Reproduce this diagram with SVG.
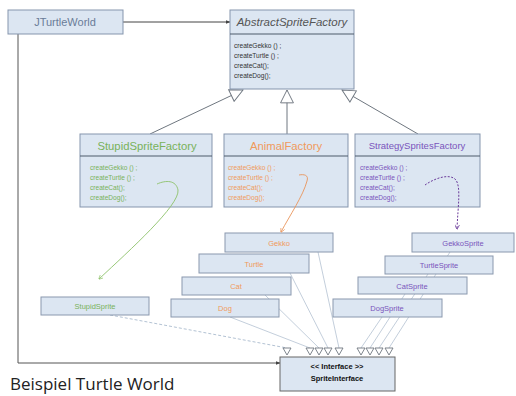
<svg xmlns="http://www.w3.org/2000/svg" width="516" height="396" viewBox="0 0 516 396">
  <defs>
    <style>
      .box { fill: #dce6f2; stroke: #8595ad; stroke-width: 1; }
      .sbox { fill: #dce6f2; stroke: #8a98ae; stroke-width: 1; }
      .div { stroke: #4d5a6b; stroke-width: 1.2; }
      .t { font-family: "Liberation Sans", Arial, sans-serif; }
      .m { font-family: "Liberation Sans", Arial, sans-serif; font-size: 6.6px; }
      .gen { fill: none; stroke: #6f7780; stroke-width: 1; }
      .tri { fill: #ffffff; stroke: #6f7780; stroke-width: 0.9; }
      .real { fill: none; stroke: #b4c2d2; stroke-width: 0.8; }
      .green { fill: #79b25a; }
      .orange { fill: #f09a5c; }
      .purple { fill: #7a54bc; }
    </style>
    <marker id="arrowDark" viewBox="0 0 10 10" refX="9" refY="5" markerWidth="5" markerHeight="5" orient="auto">
      <path d="M0,1 L10,5 L0,9 z" fill="#444"/>
    </marker>
    <marker id="arrowGreen" viewBox="0 0 10 10" refX="9" refY="5" markerWidth="5" markerHeight="5" orient="auto">
      <path d="M0,0 L10,5 L0,10" fill="none" stroke="#8dc26a" stroke-width="1.5"/>
    </marker>
    <marker id="arrowOrange" viewBox="0 0 10 10" refX="9" refY="5" markerWidth="5" markerHeight="5" orient="auto">
      <path d="M0,0 L10,5 L0,10" fill="none" stroke="#e9945a" stroke-width="1.5"/>
    </marker>
    <marker id="arrowPurple" viewBox="0 0 10 10" refX="9" refY="5" markerWidth="5" markerHeight="5" orient="auto">
      <path d="M0,0 L10,5 L0,10" fill="none" stroke="#6a3a9a" stroke-width="1.5"/>
    </marker>
    <marker id="genHead" viewBox="0 0 14 14" refX="13" refY="7" markerWidth="15" markerHeight="15" markerUnits="userSpaceOnUse" orient="auto">
      <path d="M1,1 L13,7 L1,13 z" fill="#ffffff" stroke="#6f7780" stroke-width="0.9"/>
    </marker>
  </defs>

  <rect width="516" height="396" fill="#ffffff"/>

  <!-- connectors (drawn beneath the classes) -->
  <g id="connectors">
    <!-- association JTurtleWorld -> AbstractSpriteFactory -->
    <line x1="123" y1="22" x2="230" y2="22" stroke="#444" stroke-width="1" marker-end="url(#arrowDark)"/>
    <!-- association JTurtleWorld -> SpriteInterface -->
    <polyline points="18,34 18,363 280,363" fill="none" stroke="#555" stroke-width="1" marker-end="url(#arrowDark)"/>

    <!-- generalisations to AbstractSpriteFactory -->
    <line class="gen" x1="150" y1="134" x2="243" y2="90" marker-end="url(#genHead)"/>
    <line class="gen" x1="287" y1="134" x2="287" y2="90" marker-end="url(#genHead)"/>
    <line class="gen" x1="418" y1="134" x2="342" y2="90" marker-end="url(#genHead)"/>

    <!-- realisations of SpriteInterface -->
    <line x1="110" y1="315" x2="287" y2="348" fill="none" stroke="#9fb3c8" stroke-width="0.8" stroke-dasharray="3,2"/>
    <line class="real" x1="230" y1="317" x2="310" y2="348"/>
    <line class="real" x1="265" y1="295" x2="319" y2="348"/>
    <line class="real" x1="290" y1="273" x2="328" y2="348"/>
    <line class="real" x1="318" y1="252" x2="339" y2="348"/>
    <line class="real" x1="382" y1="317" x2="361" y2="348"/>
    <line class="real" x1="405" y1="294" x2="370" y2="348"/>
    <line class="real" x1="428" y1="274" x2="379" y2="348"/>
    <line class="real" x1="450" y1="252" x2="389" y2="348"/>
    <g>
      <path class="tri" d="M283,348 L291,348 L287,355 z"/>
      <path class="tri" d="M306,348 L314,348 L310,355 z"/>
      <path class="tri" d="M315,348 L323,348 L319,355 z"/>
      <path class="tri" d="M324,348 L332,348 L328,355 z"/>
      <path class="tri" d="M335,348 L343,348 L339,355 z"/>
      <path class="tri" d="M357,348 L365,348 L361,355 z"/>
      <path class="tri" d="M366,348 L374,348 L370,355 z"/>
      <path class="tri" d="M375,348 L383,348 L379,355 z"/>
      <path class="tri" d="M385,348 L393,348 L389,355 z"/>
    </g>
  </g>

  <!-- JTurtleWorld -->
  <g id="JTurtleWorld">
    <rect class="box" x="8" y="10" width="115" height="24"/>
    <text class="t" x="65" y="26" font-size="11" fill="#6a7c98" text-anchor="middle">JTurtleWorld</text>
  </g>

  <!-- AbstractSpriteFactory -->
  <g id="AbstractSpriteFactory">
    <rect class="box" x="230" y="10" width="124" height="79"/>
    <line class="div" x1="230" y1="34" x2="354" y2="34"/>
    <text class="t" x="292" y="26" font-size="11.5" font-style="italic" fill="#555" text-anchor="middle">AbstractSpriteFactory</text>
    <g class="m" fill="#333">
      <text x="234" y="48">createGekko () ;</text>
      <text x="234" y="58">createTurtle () ;</text>
      <text x="234" y="68">createCat();</text>
      <text x="234" y="78">createDog();</text>
    </g>
  </g>

  <!-- StupidSpriteFactory -->
  <g id="StupidSpriteFactory">
    <rect class="box" x="80" y="134" width="132" height="73"/>
    <line class="div" x1="80" y1="156" x2="212" y2="156"/>
    <text class="t green" x="147" y="150" font-size="11.3" text-anchor="middle">StupidSpriteFactory</text>
    <g class="m green">
      <text x="90" y="170">createGekko () ;</text>
      <text x="90" y="180">createTurtle () ;</text>
      <text x="90" y="190">createCat();</text>
      <text x="90" y="200">createDog();</text>
    </g>
  </g>

  <!-- AnimalFactory -->
  <g id="AnimalFactory">
    <rect class="box" x="224" y="134" width="124" height="73"/>
    <line class="div" x1="224" y1="156" x2="348" y2="156"/>
    <text class="t orange" x="286" y="150" font-size="11.3" text-anchor="middle">AnimalFactory</text>
    <g class="m orange">
      <text x="228" y="170">createGekko () ;</text>
      <text x="228" y="180">createTurtle () ;</text>
      <text x="228" y="190">createCat();</text>
      <text x="228" y="200">createDog();</text>
    </g>
  </g>

  <!-- StrategySpritesFactory -->
  <g id="StrategySpritesFactory">
    <rect class="box" x="355" y="134" width="125" height="73"/>
    <line class="div" x1="355" y1="156" x2="480" y2="156"/>
    <text class="t purple" x="417" y="149" font-size="9.5" text-anchor="middle">StrategySpritesFactory</text>
    <g class="m purple">
      <text x="360" y="170">createGekko () ;</text>
      <text x="360" y="180">createTurtle () ;</text>
      <text x="360" y="190">createCat();</text>
      <text x="360" y="200">createDog();</text>
    </g>
  </g>

  <!-- animal sprites -->
  <g id="Gekko">
    <rect class="sbox" x="225" y="233" width="108" height="19"/>
    <text class="t orange" x="279" y="246" font-size="7.5" text-anchor="middle">Gekko</text>
  </g>
  <g id="Turtle">
    <rect class="sbox" x="199" y="254" width="110" height="19"/>
    <text class="t orange" x="254" y="267" font-size="7.5" text-anchor="middle">Turtle</text>
  </g>
  <g id="Cat">
    <rect class="sbox" x="182" y="277" width="109" height="18"/>
    <text class="t orange" x="236" y="289" font-size="7.5" text-anchor="middle">Cat</text>
  </g>
  <g id="Dog">
    <rect class="sbox" x="171" y="299" width="108" height="18"/>
    <text class="t orange" x="225" y="311" font-size="7.5" text-anchor="middle">Dog</text>
  </g>

  <!-- strategy sprites -->
  <g id="GekkoSprite">
    <rect class="sbox" x="412" y="233" width="102" height="19"/>
    <text class="t purple" x="463" y="246" font-size="7.5" text-anchor="middle">GekkoSprite</text>
  </g>
  <g id="TurtleSprite">
    <rect class="sbox" x="385" y="256" width="108" height="18"/>
    <text class="t purple" x="439" y="268" font-size="7.5" text-anchor="middle">TurtleSprite</text>
  </g>
  <g id="CatSprite">
    <rect class="sbox" x="358" y="277" width="109" height="17"/>
    <text class="t purple" x="412" y="289" font-size="7.5" text-anchor="middle">CatSprite</text>
  </g>
  <g id="DogSprite">
    <rect class="sbox" x="333" y="299" width="109" height="18"/>
    <text class="t purple" x="387" y="311" font-size="7.5" text-anchor="middle">DogSprite</text>
  </g>

  <!-- stupid sprite -->
  <g id="StupidSprite">
    <rect class="sbox" x="41" y="297" width="108" height="18"/>
    <text class="t green" x="95" y="309" font-size="7.5" text-anchor="middle">StupidSprite</text>
  </g>

  <!-- SpriteInterface -->
  <g id="SpriteInterface">
    <rect x="280" y="357" width="115" height="34" fill="#dce6f2" stroke="#666" stroke-width="1"/>
    <text class="t" x="337" y="369" font-size="7.5" font-weight="bold" fill="#111" text-anchor="middle">&lt;&lt; Interface &gt;&gt;</text>
    <text class="t" x="337" y="381" font-size="7.5" font-weight="bold" fill="#111" text-anchor="middle">SpriteInterface</text>
  </g>

  <!-- factory method -> created sprite (drawn over the factory boxes) -->
  <g id="connectors-create">
    <path d="M157,184 C166,180 176,180 178,190 C180,205 130,250 99,279" fill="none" stroke="#8dc26a" stroke-width="0.9" marker-end="url(#arrowGreen)"/>
    <path d="M299,175 C304,174 309,175 307,181 C303,196 290,215 281,232" fill="none" stroke="#e9945a" stroke-width="0.9" marker-end="url(#arrowOrange)"/>
    <path d="M425,185 C435,178 450,173 456,180 C461,188 458,205 457,229" fill="none" stroke="#6a3a9a" stroke-width="1" stroke-dasharray="2,1.5" marker-end="url(#arrowPurple)"/>
  </g>

  <!-- caption -->
  <text x="10" y="390" font-family="'Open Sans', 'Noto Sans', sans-serif" font-size="17" fill="#222">Beispiel Turtle World</text>
</svg>
